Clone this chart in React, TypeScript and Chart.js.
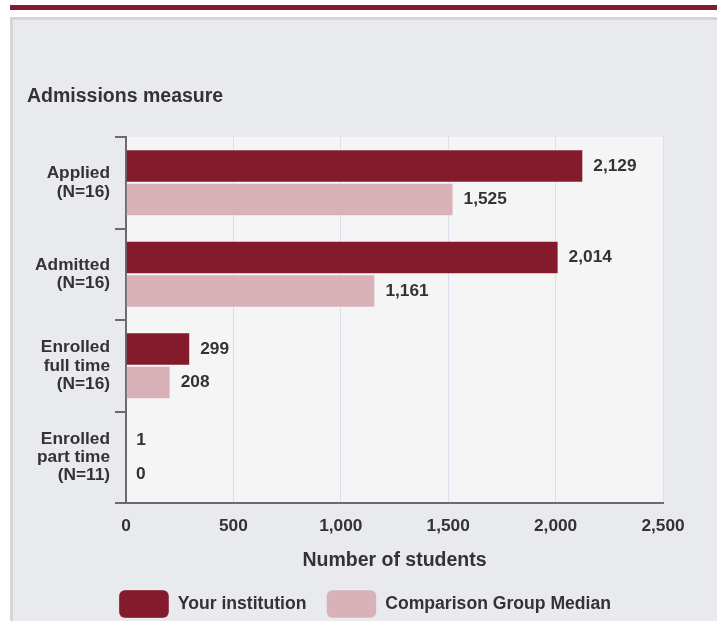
import React, { useEffect, useRef } from 'react';
import { Chart, registerables } from 'chart.js';

Chart.register(...registerables);

const categories: string[][] = [
  ['Applied', '(N=16)'],
  ['Admitted', '(N=16)'],
  ['Enrolled', 'full time', '(N=16)'],
  ['Enrolled', 'part time', '(N=11)'],
];
const seriesNames = ['Your institution', 'Comparison Group Median'];
const yourInstitution = [2129, 2014, 299, 1];
const comparisonMedian = [1525, 1161, 208, 0];
const xMin = 0;
const xMax = 2500;
const xStep = 500;

const FONT = "'Liberation Sans', Arial, Helvetica, sans-serif";
const MAROON = '#841b2d';
const PINK = '#d8b2b8';
const TEXT = '#333333';

const fmt = (v: number) => Number(v).toLocaleString('en-US');

const plotBg = {
  id: 'plotBg',
  beforeDraw(chart: any) {
    const { ctx, chartArea } = chart;
    ctx.save();
    ctx.fillStyle = '#f5f5f5';
    ctx.fillRect(chartArea.left, chartArea.top, chartArea.right - chartArea.left, chartArea.bottom - chartArea.top);
    ctx.restore();
  },
};

const valueLabels = {
  id: 'valueLabels',
  afterDatasetsDraw(chart: any) {
    const { ctx } = chart;
    ctx.save();
    ctx.font = `bold 17.3px ${FONT}`;
    ctx.fillStyle = TEXT;
    ctx.textAlign = 'left';
    ctx.textBaseline = 'middle';
    chart.data.datasets.forEach((ds: any, di: number) => {
      const meta = chart.getDatasetMeta(di);
      meta.data.forEach((el: any, i: number) => {
        ctx.fillText(fmt(ds.data[i]), el.x + 10, el.y);
      });
    });
    ctx.restore();
  },
};

export default function App() {
  const ref = useRef<HTMLCanvasElement | null>(null);

  useEffect(() => {
    if (!ref.current) return;
    const chart = new Chart(ref.current, {
      type: 'bar',
      data: {
        labels: categories,
        datasets: [
          {
            label: seriesNames[0],
            data: yourInstitution,
            backgroundColor: MAROON,
            borderColor: 'rgba(255,255,255,0.3)',
            borderWidth: 1,
            categoryPercentage: 0.73,
            barPercentage: 1,
          },
          {
            label: seriesNames[1],
            data: comparisonMedian,
            backgroundColor: PINK,
            borderColor: 'rgba(255,255,255,0.3)',
            borderWidth: 1,
            categoryPercentage: 0.73,
            barPercentage: 1,
          },
        ],
      },
      options: {
        indexAxis: 'y',
        animation: false,
        responsive: false,
        devicePixelRatio: 1,
        layout: { padding: { left: 14, right: 14, top: 0, bottom: 0 } },
        plugins: {
          title: {
            display: true,
            text: 'Admissions measure',
            align: 'start',
            color: TEXT,
            font: { family: FONT, size: 19.5, weight: 'bold', lineHeight: 1.2 },
            padding: { top: 65.3, bottom: 28.3 },
          },
          legend: {
            display: true,
            position: 'bottom',
            labels: {
              boxWidth: 50,
              boxHeight: 28,
              padding: 20,
              useBorderRadius: true,
              borderRadius: 6,
              color: TEXT,
              font: { family: FONT, size: 17.6, weight: 'bold' },
            },
          },
          tooltip: { enabled: false },
        },
        scales: {
          x: {
            type: 'linear',
            position: 'bottom',
            min: xMin,
            max: xMax,
            ticks: {
              stepSize: xStep,
              padding: 12.6,
              color: TEXT,
              font: { family: FONT, size: 17.3, weight: 'bold' },
              callback: (v: any) => fmt(v),
            },
            grid: { color: '#d9e0ed', lineWidth: 1, drawTicks: false },
            border: { display: true, color: '#6b6b6b', width: 2 },
            title: {
              display: true,
              text: 'Number of students',
              color: TEXT,
              font: { family: FONT, size: 19.5, weight: 'bold', lineHeight: 1 },
              padding: { top: 0, bottom: 0 },
            },
            afterFit: (s: any) => {
              s.height = 67;
            },
          },
          y: {
            type: 'category',
            position: 'left',
            ticks: {
              padding: 5,
              color: TEXT,
              font: { family: FONT, size: 17.3, weight: 'bold', lineHeight: 1.06 },
            },
            grid: {
              drawOnChartArea: false,
              drawTicks: true,
              tickLength: 11,
              color: '#6b6b6b',
              lineWidth: 2,
              offset: true,
            },
            border: { display: true, color: '#6b6b6b', width: 2 },
            afterFit: (s: any) => {
              s.width = 99;
            },
          },
          spacer: {
            type: 'linear',
            position: 'right',
            display: true,
            grid: { display: false, drawTicks: false },
            ticks: { display: false },
            border: { display: false },
            afterFit: (s: any) => {
              s.width = 40;
            },
          },
        },
      },
      plugins: [plotBg, valueLabels],
    } as any);
    return () => chart.destroy();
  }, []);

  return (
    <div
      style={{
        position: 'fixed',
        left: 0,
        top: 0,
        width: 717,
        height: 621,
        overflow: 'hidden',
        background: '#ffffff',
      }}
    >
      <div style={{ position: 'absolute', left: 10, top: 5, width: 707, height: 5, background: MAROON }} />
      <div
        style={{
          position: 'absolute',
          left: 10,
          top: 17,
          width: 720,
          height: 620,
          background: '#e9eaee',
          borderLeft: '3px solid #d6d6d6',
          borderTop: '3px solid #d6d6d6',
          boxSizing: 'border-box',
        }}
      />
      <canvas
        ref={ref}
        width={704}
        height={608}
        style={{ position: 'absolute', left: 13, top: 20, width: 704, height: 608 }}
      />
    </div>
  );
}
